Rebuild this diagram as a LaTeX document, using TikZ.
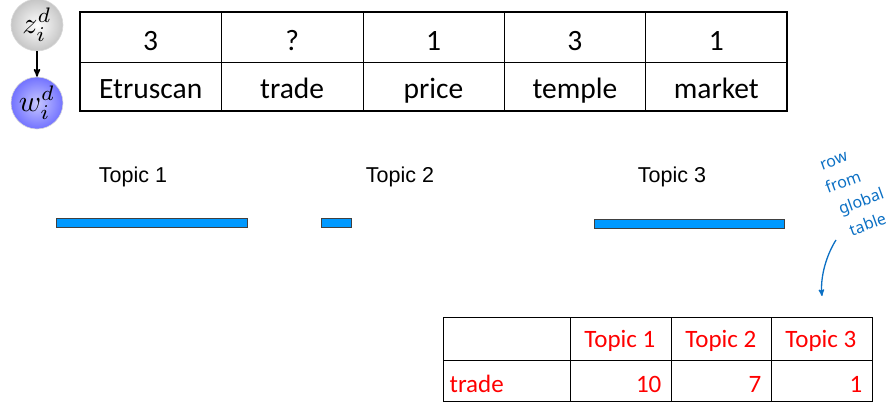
\documentclass[tikz,border=0pt]{standalone}
\usepackage{fontspec}
\usepackage{graphicx}
\setmainfont{Carlito}
\newfontfamily\arialfont{Liberation Sans}
\newfontfamily\handfont{Noto Sans}
\usetikzlibrary{arrows,positioning}
\definecolor{barblue}{RGB}{0,153,255}
\definecolor{inkblue}{RGB}{12,112,196}

\begin{document}
\begin{tikzpicture}[x=1pt,y=-1pt,>=stealth',semithick]
  \tikzstyle{var}=[circle,minimum size=52pt,inner sep=0pt,draw=gray!30]
  \tikzstyle{cell}=[anchor=base,font=\fontsize{29.5}{30}\selectfont]
  \tikzstyle{count}=[anchor=base east,text=red,font=\fontsize{25}{25}\selectfont]
  \tikzstyle{topic}=[anchor=base,font=\arialfont\fontsize{21.5}{22}\selectfont]
  \tikzstyle{bar}=[fill=barblue,draw=black!75,thin]
  \tikzstyle{ink}=[text=inkblue,rotate=20,inner sep=0pt,align=left,
                   font=\handfont\fontsize{16}{24}\selectfont]

  \useasboundingbox (0,0) rectangle (896,402);

  % topic z and word w
  \node[var,inner color=white,outer color=gray!45] (z) at (37,25)
    {\scalebox{3}{$z_i^d$}};
  \node[var,inner color=blue!22,outer color=blue!55] (w) at (37,103)
    {\scalebox{3}{$w_i^d$}};
  \draw[->,line width=1.6pt] (z) -- (w);

  % document: assignments and words
  \draw[very thick] (80,12) rectangle (787,111);
  \draw (80,62) -- (787,62);
  \foreach \x in {221.4,362.8,504.2,645.6}
    \draw (\x,12) -- (\x,111);
  \foreach \a/\word [count=\i] in {3/Etruscan,?/trade,1/price,3/temple,1/market} {
    \node[cell] (a\i) at (9.3+141.4*\i,50) {\a};
    \node[cell] (d\i) at (9.3+141.4*\i,98) {\word};
  }

  % topic probabilities
  \node[topic] (t1) at (133,182) {Topic 1};
  \node[topic] (t2) at (400,182) {Topic 2};
  \node[topic] (t3) at (672,182) {Topic 3};
  \draw[bar] (56,218) rectangle (247,227);
  \draw[bar] (321,218) rectangle (351,227);
  \draw[bar] (594,219) rectangle (784,228);

  % row of the word-topic counts
  \draw[thick] (443,317) rectangle (872,401);
  \draw (443,360) -- (872,360);
  \foreach \x in {570,671,771}
    \draw (\x,317) -- (\x,401);
  \node[count] (h1) at (659,347) {Topic 1};
  \node[count] (h2) at (760,347) {Topic 2};
  \node[count] (h3) at (860,347) {Topic 3};
  \node[count,anchor=base west] (wd) at (446,392) {trade};
  \node[count] (n1) at (665,392) {10};
  \node[count] (n2) at (765,392) {7};
  \node[count] (n3) at (866,392) {1};

  % note
  \node[ink] (note) at (855,192) {\,row\\from\\\,\,global\\\,\,\,table};
  \coordinate (from) at (836,240);
  \coordinate (to) at (822,296);
  \draw[->,inkblue,line width=1.3pt] (from) .. controls (827,254) and (820,276) .. (to);
\end{tikzpicture}
\end{document}
